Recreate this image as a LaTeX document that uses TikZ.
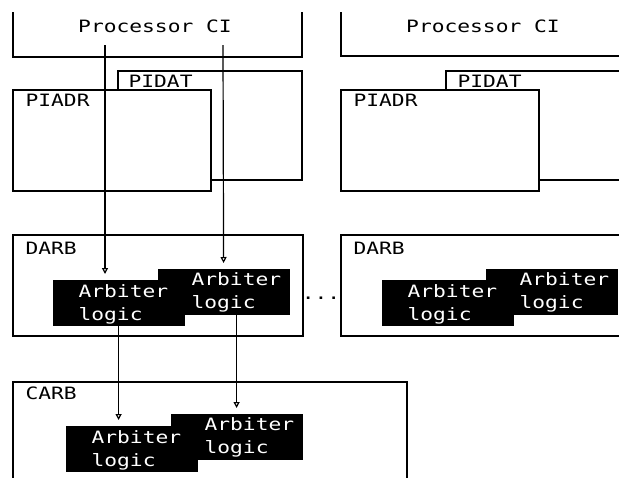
\documentclass[tikz,border=0pt]{standalone}
\usepackage{fontspec}
\newfontfamily\pixfont[FakeStretch=1.25]{DejaVu Sans Mono}
\usetikzlibrary{arrows.meta}
\begin{document}
\begin{tikzpicture}[x=1pt, y=-1pt, line width=1.2pt,
  lbl/.style={font=\pixfont\fontsize{17}{23}\selectfont, inner sep=0pt, anchor=base west},
  arb/.style={fill=black, draw=none, minimum width=132pt, minimum height=46pt, anchor=north west, inner sep=0pt},
  arbtxt/.style={lbl, text=white, align=left},
  conn/.style={-{Triangle[open,length=6pt,width=6pt]}, shorten >=5pt}]
\useasboundingbox (0,0) rectangle (619,477);
\clip (0,0) rectangle (619,477);
% processor boxes
\draw (13,12) -- (13,57) -- (302,57) -- (302,12);
\draw (341,12) -- (341,56) -- (630,56);
\node[lbl, anchor=base] (pcl) at (155,32) {Processor CI};
\node[lbl, anchor=base] (pcr) at (483,32) {Processor CI};
% PIDAT / PIADR left
\draw (118,71) rectangle (302,180);
\node[lbl] (pidl) at (128,87) {PIDAT};
\draw[fill=white] (13,90) rectangle (211,191);
\node[lbl] (pial) at (25,106) {PIADR};
% PIDAT / PIADR right
\draw (446,71) rectangle (640,180);
\node[lbl] (pidr) at (457,87) {PIDAT};
\draw[fill=white] (341,90) rectangle (539,191);
\node[lbl] (piar) at (353,106) {PIADR};
% DARB left
\draw (13,235) rectangle (303,336);
\node[lbl] (darbl) at (25,254) {DARB};
\node[arb] (d1) at (52,279) {};
\node[arb] (d2) at (157,268) {};
\node[arbtxt] (d1t) at ([shift={(26,41)}]d1.north west) {Arbiter\\logic};
\node[arbtxt] (d2t) at ([shift={(34,40)}]d2.north west) {Arbiter\\logic};
\node[lbl, anchor=base] (dots) at (321,299) {...};
% DARB right
\draw (640,235) -- (341,235) -- (341,336) -- (640,336);
\node[lbl] (darbr) at (353,254) {DARB};
\node[arb] (r1) at (381,279) {};
\node[arb] (r2) at (485,268) {};
\node[arbtxt] (r1t) at ([shift={(26,41)}]r1.north west) {Arbiter\\logic};
\node[arbtxt] (r2t) at ([shift={(34,40)}]r2.north west) {Arbiter\\logic};
% CARB
\draw (13,490) -- (13,382) -- (407,382) -- (407,490);
\node[lbl] (carb) at (25,399) {CARB};
\node[arb] (c1) at (65,425) {};
\node[arb] (c2) at (170,413) {};
\node[arbtxt] (c1t) at ([shift={(26,41)}]c1.north west) {Arbiter\\logic};
\node[arbtxt] (c2t) at ([shift={(34,40)}]c2.north west) {Arbiter\\logic};
% connectors
\coordinate (s1) at (105,45);
\coordinate (s2) at (223,45);
\draw[conn] (s1) -- (s1 |- d1.north);
\draw[conn] (s2) -- (d2.north);
\draw[conn] (d1.south) -- (d1.south |- c1.north);
\draw[conn] (c2.north |- d2.south) -- (c2.north);
\end{tikzpicture}
\end{document}
